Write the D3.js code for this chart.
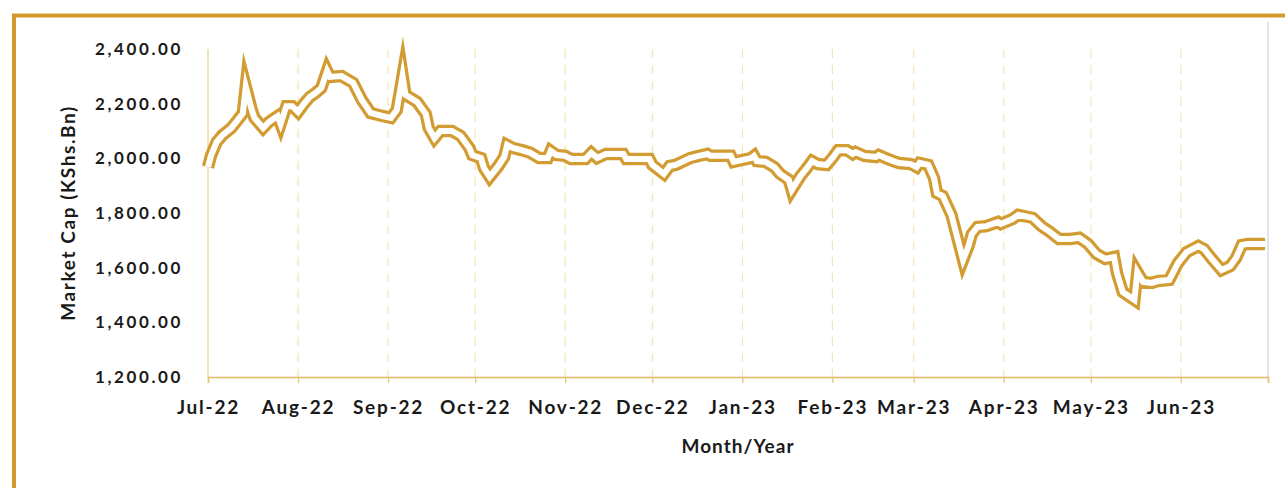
<!DOCTYPE html>
<html>
<head>
<meta charset="utf-8">
<script src="https://cdn.jsdelivr.net/npm/d3@7"></script>
<style>
  html, body { margin: 0; padding: 0; background: #fff; }
  svg { display: block; }
  text { font-family: Lato, "Open Sans", sans-serif; font-weight: 700; fill: #1a1a1a; }
</style>
</head>
<body>
<div id="chart"></div>
<script>
// trading dates and market cap (KShs. Bn)
const dates = [
  '2022-07-01','2022-07-02','2022-07-04','2022-07-06','2022-07-09','2022-07-11','2022-07-13','2022-07-14',
  '2022-07-16','2022-07-17','2022-07-20','2022-07-22','2022-07-24','2022-07-25','2022-07-26','2022-07-28',
  '2022-07-30','2022-08-01','2022-08-03','2022-08-05','2022-08-07','2022-08-09','2022-08-11','2022-08-12',
  '2022-08-16','2022-08-20','2022-08-23','2022-08-26','2022-08-30','2022-09-02','2022-09-04','2022-09-06',
  '2022-09-07','2022-09-11','2022-09-14','2022-09-15','2022-09-17','2022-09-19','2022-09-23','2022-09-26',
  '2022-09-29','2022-09-30','2022-10-03','2022-10-04','2022-10-06','2022-10-09','2022-10-11','2022-10-12',
  '2022-10-14','2022-10-17','2022-10-20','2022-10-23','2022-10-26','2022-10-27','2022-10-29','2022-11-01',
  '2022-11-03','2022-11-08','2022-11-10','2022-11-12','2022-11-15','2022-11-21','2022-11-22','2022-11-30',
  '2022-12-01','2022-12-05','2022-12-07','2022-12-09','2022-12-14','2022-12-17','2022-12-20','2022-12-21',
  '2022-12-28','2022-12-29','2023-01-04','2023-01-05','2023-01-06','2023-01-09','2023-01-12','2023-01-14',
  '2023-01-17','2023-01-18','2023-01-21','2023-01-23','2023-01-25','2023-01-27','2023-01-30','2023-02-01',
  '2023-02-03','2023-02-06','2023-02-08','2023-02-09','2023-02-12','2023-02-16','2023-02-17','2023-02-20',
  '2023-02-22','2023-02-24','2023-02-28','2023-03-02','2023-03-03','2023-03-06','2023-03-08','2023-03-09',
  '2023-03-11','2023-03-14','2023-03-18','2023-03-20','2023-03-21','2023-03-23','2023-03-26','2023-03-30',
  '2023-03-31','2023-04-04','2023-04-06','2023-04-08','2023-04-11','2023-04-14','2023-04-17','2023-04-20',
  '2023-04-24','2023-04-27','2023-04-30','2023-05-03','2023-05-06','2023-05-09','2023-05-10','2023-05-12',
  '2023-05-16','2023-05-17','2023-05-19','2023-05-22','2023-05-24','2023-05-28','2023-05-31','2023-06-03',
  '2023-06-07','2023-06-09','2023-06-12','2023-06-15','2023-06-18','2023-06-20','2023-06-22','2023-06-24',
  '2023-06-30'
];
const marketCap = [
  1968, 2009, 2060, 2085, 2111, 2137, 2165, 2262,
  2180, 2148, 2111, 2133, 2148, 2155, 2126, 2191,
  2191, 2170, 2199, 2224, 2239, 2257, 2320, 2298,
  2301, 2276, 2213, 2166, 2155, 2148, 2177, 2302,
  2232, 2206, 2162, 2111, 2074, 2100, 2100, 2082,
  2038, 2012, 2001, 1965, 1932, 1972, 2005, 2049,
  2038, 2030, 2020, 2001, 2001, 2027, 2012, 2009,
  1998, 1998, 2020, 2001, 2016, 2016, 1998, 1998,
  1976, 1943, 1972, 1976, 2001, 2009, 2016, 2009,
  2009, 1987, 2001, 2009, 1990, 1987, 1968, 1943,
  1921, 1884, 1935, 1961, 1990, 1979, 1976, 2001,
  2030, 2030, 2016, 2023, 2009, 2005, 2012, 1998,
  1990, 1983, 1979, 1968, 1983, 1976, 1928, 1873,
  1862, 1793, 1628, 1683, 1723, 1749, 1752, 1767,
  1760, 1778, 1793, 1789, 1782, 1752, 1730, 1705,
  1705, 1709, 1687, 1650, 1632, 1639, 1580, 1511,
  1482, 1584, 1548, 1544, 1551, 1555, 1617, 1657,
  1679, 1668, 1628, 1591, 1606, 1635, 1683, 1687,
  1687
];
const monthTicks = ['2022-07-01','2022-08-01','2022-09-01','2022-10-01','2022-11-01','2022-12-01',
  '2023-01-01','2023-02-01','2023-03-01','2023-04-01','2023-05-01','2023-06-01','2023-07-01'];
const yTicks = [1200, 1400, 1600, 1800, 2000, 2200, 2400];

const W = 1285, H = 488;
const gold = '#d29c33';
const parse = d3.timeParse('%Y-%m-%d');
const data = dates.map((d, i) => ({ date: parse(d), value: marketCap[i] }));
const ticks = monthTicks.map(parse);

const svg = d3.select('#chart').append('svg')
  .attr('width', W)
  .attr('height', H);

// outer frame (runs off the right and bottom of the picture)
svg.append('rect')
  .attr('x', 14).attr('y', 15.5)
  .attr('width', 1300).attr('height', 500)
  .attr('fill', 'none')
  .attr('stroke', '#d39b2e')
  .attr('stroke-width', 4);

const x = d3.scaleTime()
  .domain([ticks[0], ticks[ticks.length - 1]])
  .range([208, 1268]);
const y = d3.scaleLinear()
  .domain([1200, 2400])
  .range([377, 49]);

// vertical dashed grid at each month
svg.append('g')
  .selectAll('line')
  .data(ticks.slice(1, -1))
  .join('line')
  .attr('x1', d => x(d)).attr('x2', d => x(d))
  .attr('y1', y(2400)).attr('y2', y(1200))
  .attr('stroke', '#f2e6ad')
  .attr('stroke-width', 1.2)
  .attr('stroke-dasharray', '9,7');

// right edge of plot
svg.append('line')
  .attr('x1', 1268).attr('x2', 1268)
  .attr('y1', 22).attr('y2', y(1200))
  .attr('stroke', '#dcd8ea')
  .attr('stroke-width', 1.5);

// y axis line
svg.append('line')
  .attr('x1', 208).attr('x2', 208)
  .attr('y1', y(2400)).attr('y2', y(1200))
  .attr('stroke', '#eed8a0')
  .attr('stroke-width', 1.5);

// x axis
const xAxis = svg.append('g')
  .attr('transform', `translate(0,${y(1200)})`)
  .call(d3.axisBottom(x)
    .tickValues(ticks)
    .tickSize(6)
    .tickPadding(18)
    .tickFormat((d, i) => i === ticks.length - 1 ? '' : d3.timeFormat('%b-%y')(d)));
xAxis.select('.domain').attr('stroke', '#dfbb62').attr('stroke-width', 1.6);
xAxis.selectAll('.tick line').attr('stroke', '#e4c67a').attr('stroke-width', 1.3);
xAxis.selectAll('.tick text')
  .attr('font-size', 19)
  .style('letter-spacing', '1.8px')
  .attr('fill', '#1a1a1a');

// y axis labels
const yAxis = svg.append('g')
  .attr('transform', 'translate(208,0)')
  .call(d3.axisLeft(y)
    .tickValues(yTicks)
    .tickSize(0)
    .tickPadding(25)
    .tickFormat(d3.format(',.2f')));
yAxis.select('.domain').remove();
yAxis.selectAll('.tick text')
  .attr('font-size', 17)
  .style('letter-spacing', '2.6px')
  .attr('fill', '#1a1a1a');

// axis titles
svg.append('text')
  .attr('x', 738).attr('y', 453)
  .attr('text-anchor', 'middle')
  .attr('font-size', 19)
  .style('letter-spacing', '1px')
  .text('Month/Year');
svg.append('text')
  .attr('transform', `translate(75,${(y(2400) + y(1200)) / 2}) rotate(-90)`)
  .attr('text-anchor', 'middle')
  .attr('font-size', 19)
  .style('letter-spacing', '1.6px')
  .text('Market Cap (KShs.Bn)');

// the double-stroked line
const line = d3.line()
  .x(d => x(d.date))
  .y(d => y(d.value));
svg.append('path')
  .datum(data)
  .attr('d', line)
  .attr('fill', 'none')
  .attr('stroke', gold)
  .attr('stroke-width', 12.5)
  .attr('stroke-linejoin', 'miter')
  .attr('stroke-miterlimit', 12);
svg.append('path')
  .datum(data)
  .attr('d', line)
  .attr('fill', 'none')
  .attr('stroke', '#fff')
  .attr('stroke-width', 6)
  .attr('stroke-linejoin', 'miter')
  .attr('stroke-miterlimit', 12);
</script>
</body>
</html>
